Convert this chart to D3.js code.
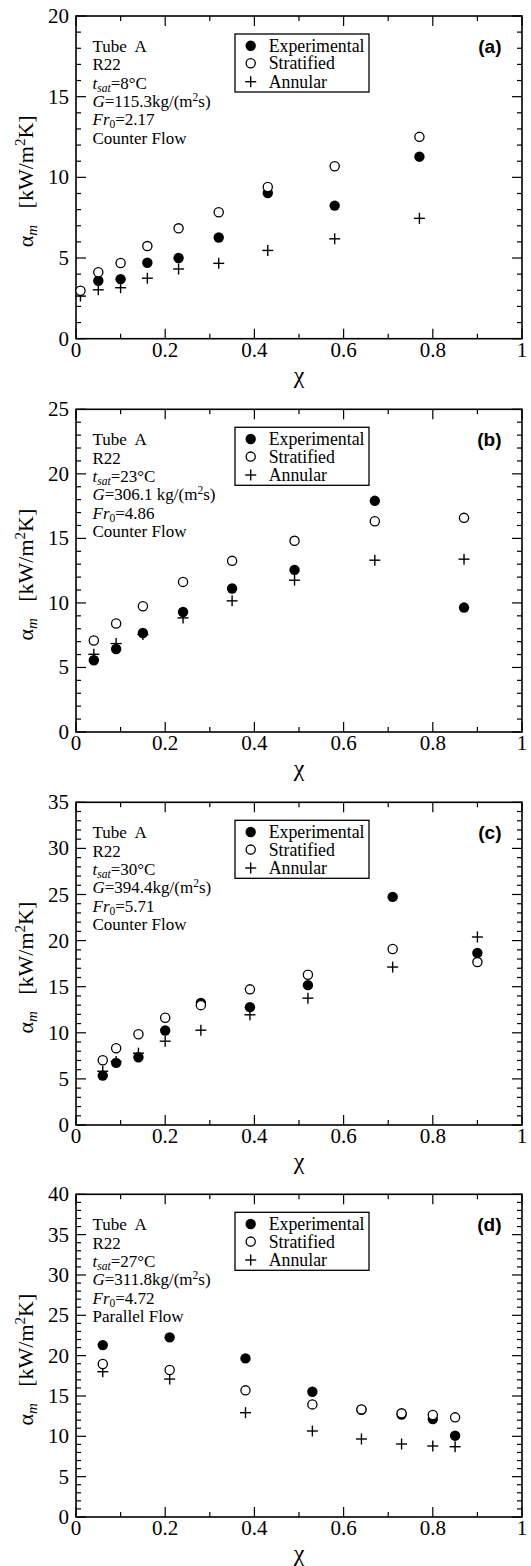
<!DOCTYPE html>
<html>
<head>
<meta charset="utf-8">
<script src="https://cdn.jsdelivr.net/npm/d3@7"></script>
<style>
  body { margin: 0; background: #fff; }
  svg text { font-family: "Liberation Serif", "Times New Roman", serif; fill: #000; white-space: pre; }
  svg text.tag { font-family: "Liberation Sans", Arial, sans-serif; font-weight: bold; }
</style>
</head>
<body>
<div id="chart"></div>
<script>
// data (x = quality, y = alpha_m kW/m2K)
var xA = [0.01, 0.05, 0.10, 0.16, 0.23, 0.32, 0.43, 0.58, 0.77];
var expA = [null, 3.59, 3.69, 4.71, 5.0, 6.27, 9.03, 8.25, 11.28];
var strA = [2.97, 4.12, 4.69, 5.74, 6.84, 7.84, 9.40, 10.69, 12.51];
var annA = [2.64, 3.03, 3.16, 3.75, 4.32, 4.67, 5.47, 6.19, 7.46];

var xB = [0.04, 0.09, 0.15, 0.24, 0.35, 0.49, 0.67, 0.87];
var expB = [5.56, 6.43, 7.67, 9.30, 11.12, 12.56, 17.91, 9.64];
var strB = [7.09, 8.40, 9.74, 11.63, 13.26, 14.81, 16.33, 16.59];
var annB = [6.02, 6.85, 7.55, 8.84, 10.16, 11.76, 13.31, 13.39];

var xC = [0.06, 0.09, 0.14, 0.20, 0.28, 0.39, 0.52, 0.71, 0.90];
var expC = [5.36, 6.74, 7.35, 10.25, 13.25, 12.78, 15.17, 24.74, 18.65];
var strC = [7.02, 8.33, 9.85, 11.63, 13.0, 14.71, 16.3, 19.09, 17.67];
var annC = [5.83, 6.9, 7.79, 9.09, 10.28, 11.95, 13.76, 17.13, 20.39];

var xD = [0.06, 0.21, 0.38, 0.53, 0.64, 0.73, 0.80, 0.85];
var expD = [21.31, 22.27, 19.66, 15.53, 13.3, 12.7, 12.14, 10.08];
var strD = [18.96, 18.22, 15.7, 13.96, 13.34, 12.85, 12.64, 12.35];
var annD = [18.01, 17.1, 12.93, 10.66, 9.67, 9.05, 8.8, 8.71];

var yMax = [20, 25, 35, 40];
var panelTag = ['(a)', '(b)', '(c)', '(d)'];
var tsat = ['8', '23', '30', '27'];
var massFlux = ['115.3kg/(m', '306.1 kg/(m', '394.4kg/(m', '311.8kg/(m'];
var froude = ['2.17', '4.86', '5.71', '4.72'];
var flowDir = ['Counter Flow', 'Counter Flow', 'Counter Flow', 'Parallel Flow'];
var legendNames = ['Experimental', 'Stratified', 'Annular'];

var panels = [
  {x: xA, exp: expA, str: strA, ann: annA},
  {x: xB, exp: expB, str: strB, ann: annB},
  {x: xC, exp: expC, str: strC, ann: annC},
  {x: xD, exp: expD, str: strD, ann: annD}
];

var w = 531, h = 1566;
var left = 76, right = 522, ph = 322.7;
var tops = [16, 409.3, 802.3, 1194.3];

var svg = d3.select("#chart").append("svg")
  .attr("width", w)
  .attr("height", h);

function pts(xs, ys) {
  var out = [];
  for (var i = 0; i < xs.length; i++) {
    if (ys[i] != null) out.push({x: xs[i], y: ys[i]});
  }
  return out;
}

function plus(g, cx, cy, s) {
  g.append("line").attr("x1", cx - s).attr("x2", cx + s).attr("y1", cy).attr("y2", cy)
    .attr("stroke", "#000").attr("stroke-width", 1.4);
  g.append("line").attr("x1", cx).attr("x2", cx).attr("y1", cy - s).attr("y2", cy + s)
    .attr("stroke", "#000").attr("stroke-width", 1.4);
}

panels.forEach(function(p, k) {
  var top = tops[k];
  var g = svg.append("g");

  var x = d3.scaleLinear().domain([0, 1]).range([left, right]);
  var y = d3.scaleLinear().domain([0, yMax[k]]).range([top + ph, top]);

  // ticks (inward, all four sides)
  var xMinor = d3.range(0, 1.0001, 0.1);
  var yMinor = d3.range(0, yMax[k] + 0.001, 1);
  xMinor.forEach(function(v, i) {
    var len = (i % 2 == 0) ? 10 : 5;
    g.append("line").attr("x1", x(v)).attr("x2", x(v)).attr("y1", top + ph).attr("y2", top + ph - len)
      .attr("stroke", "#000").attr("stroke-width", 1.2);
    g.append("line").attr("x1", x(v)).attr("x2", x(v)).attr("y1", top).attr("y2", top + len)
      .attr("stroke", "#000").attr("stroke-width", 1.2);
  });
  yMinor.forEach(function(v) {
    var len = (v % 5 == 0) ? 10 : 5;
    g.append("line").attr("x1", left).attr("x2", left + len).attr("y1", y(v)).attr("y2", y(v))
      .attr("stroke", "#000").attr("stroke-width", 1.2);
    g.append("line").attr("x1", right).attr("x2", right - len).attr("y1", y(v)).attr("y2", y(v))
      .attr("stroke", "#000").attr("stroke-width", 1.2);
  });

  // frame
  g.append("rect").attr("x", left).attr("y", top).attr("width", right - left).attr("height", ph)
    .attr("fill", "none").attr("stroke", "#000").attr("stroke-width", 1.6);

  // tick labels
  g.selectAll(".xl").data(d3.range(0, 1.0001, 0.2)).enter().append("text")
    .attr("x", function(d) { return x(d); })
    .attr("y", top + ph + 18)
    .attr("text-anchor", "middle")
    .attr("font-size", "21px")
    .text(function(d) { return d3.format("~g")(+d.toFixed(1)); });
  g.selectAll(".yl").data(d3.range(0, yMax[k] + 0.001, 5)).enter().append("text")
    .attr("x", left - 7)
    .attr("y", function(d) { return y(d) + 7; })
    .attr("text-anchor", "end")
    .attr("font-size", "21px")
    .text(function(d) { return d; });

  // axis titles
  g.append("text")
    .attr("x", (left + right) / 2)
    .attr("y", top + ph + 44)
    .attr("text-anchor", "middle")
    .attr("font-size", "24px")
    .text("χ");

  var yl = g.append("text")
    .attr("transform", "translate(33," + (top + ph / 2 + 4) + ") rotate(-90)")
    .attr("text-anchor", "middle")
    .attr("font-size", "22px");
  yl.append("tspan").text("α");
  yl.append("tspan").attr("font-style", "italic").attr("font-size", "15px").attr("dy", 4).text("m");
  yl.append("tspan").attr("dy", -4).text("   [kW/m");
  yl.append("tspan").attr("font-size", "15px").attr("dy", -8).text("2");
  yl.append("tspan").attr("dy", 8).text("K]");

  // data marks: annular (+), experimental (filled), stratified (open)
  pts(p.x, p.ann).forEach(function(d) { plus(g, x(d.x), y(d.y), 5.5); });
  g.selectAll(".exp").data(pts(p.x, p.exp)).enter().append("circle")
    .attr("cx", function(d) { return x(d.x); })
    .attr("cy", function(d) { return y(d.y); })
    .attr("r", 5.2)
    .attr("fill", "#000");
  g.selectAll(".str").data(pts(p.x, p.str)).enter().append("circle")
    .attr("cx", function(d) { return x(d.x); })
    .attr("cy", function(d) { return y(d.y); })
    .attr("r", 4.6)
    .attr("fill", "#fff")
    .attr("stroke", "#000")
    .attr("stroke-width", 1.3);

  // conditions text block
  var tx = 92.5, ty = top + 36, dy = 18.3;
  var fs = "17px";
  g.append("text").attr("x", tx).attr("y", ty).attr("font-size", fs).text("Tube  A");
  g.append("text").attr("x", tx).attr("y", ty + dy).attr("font-size", fs).text("R22");
  var t3 = g.append("text").attr("x", tx).attr("y", ty + dy * 2).attr("font-size", fs);
  t3.append("tspan").attr("font-style", "italic").text("t");
  t3.append("tspan").attr("font-style", "italic").attr("font-size", "11.5px").attr("dy", 3).text("sat");
  t3.append("tspan").attr("dy", -3).text("=" + tsat[k] + "°C");
  var t4 = g.append("text").attr("x", tx).attr("y", ty + dy * 3).attr("font-size", fs);
  t4.append("tspan").attr("font-style", "italic").text("G");
  t4.append("tspan").text("=" + massFlux[k]);
  t4.append("tspan").attr("font-size", "11.5px").attr("dy", -6).text("2");
  t4.append("tspan").attr("dy", 6).text("s)");
  var t5 = g.append("text").attr("x", tx).attr("y", ty + dy * 4).attr("font-size", fs);
  t5.append("tspan").attr("font-style", "italic").text("Fr");
  t5.append("tspan").attr("font-size", "11.5px").attr("dy", 3).text("0");
  t5.append("tspan").attr("dy", -3).text("=" + froude[k]);
  g.append("text").attr("x", tx).attr("y", ty + dy * 5).attr("font-size", fs).text(flowDir[k]);

  // panel tag
  g.append("text")
    .attr("class", "tag")
    .attr("x", 501.5)
    .attr("y", top + 36.5)
    .attr("text-anchor", "end")
    .attr("font-size", "19px")
    .text(panelTag[k]);

  // legend
  var lg = g.append("g").attr("transform", "translate(235," + (top + 18) + ")");
  lg.append("rect").attr("width", 134).attr("height", 58)
    .attr("fill", "#fff").attr("stroke", "#000").attr("stroke-width", 1.3);
  var ly = [11.7, 29.3, 47.7];
  lg.append("circle").attr("cx", 15.7).attr("cy", ly[0]).attr("r", 5.2).attr("fill", "#000");
  lg.append("circle").attr("cx", 15.7).attr("cy", ly[1]).attr("r", 4.6)
    .attr("fill", "#fff").attr("stroke", "#000").attr("stroke-width", 1.3);
  plus(lg, 15.7, ly[2], 5.5);
  legendNames.forEach(function(n, i) {
    lg.append("text").attr("x", 33.7).attr("y", ly[i] + 6).attr("font-size", "17.8px").text(n);
  });
});
</script>
</body>
</html>
